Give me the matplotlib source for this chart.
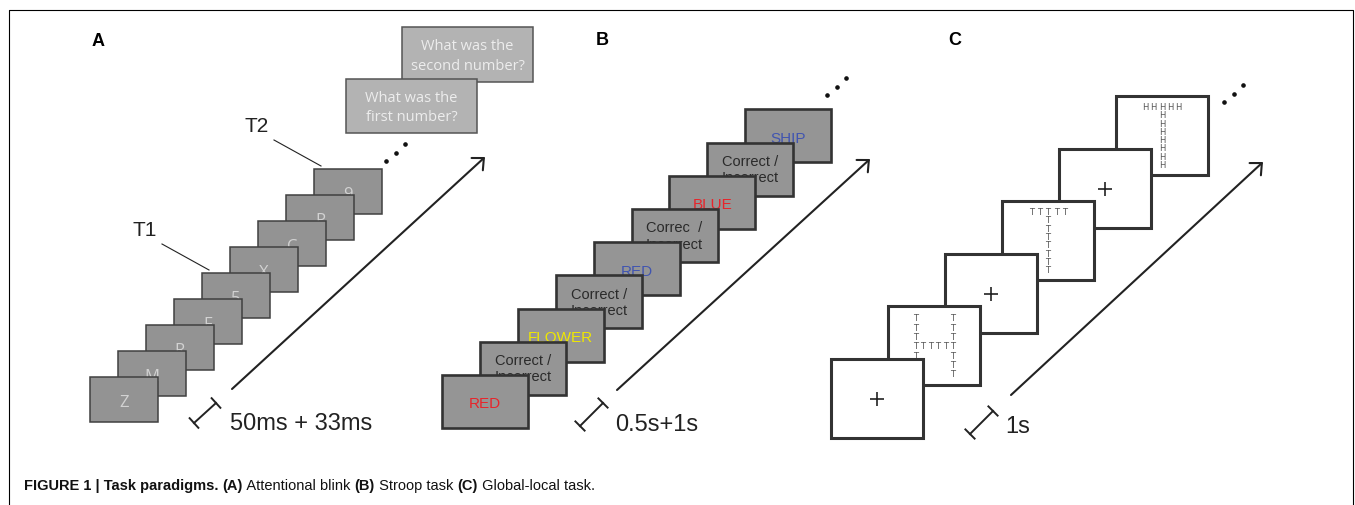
import numpy as np
import matplotlib.pyplot as plt
from matplotlib.patches import Rectangle
from matplotlib import font_manager

W, H = 1355, 506

# ---- content of the three paradigms ----
panel_labels = ['A', 'B', 'C']
timings = ['50ms + 33ms', '0.5s+1s', '1s']

# A: attentional blink stream (first item is the front card)
rsvp_items = ['Z', 'M', 'R', 'F', '5', 'X', 'C', 'P', '9']
rsvp_targets = {'T1': 4, 'T2': 8}
questions = ['What was the\nfirst number?', 'What was the\nsecond number?']

# B: Stroop stream
stroop_words = ['RED', 'Correct /\nIncorrect', 'FLOWER', 'Correct /\nIncorrect', 'RED',
                'Correc  /\nIncorrect', 'BLUE', 'Correct /\nIncorrect', 'SHIP']
stroop_inks = ['red', 'black', 'yellow', 'black', 'blue', 'black', 'red', 'black', 'blue']

# C: global-local stream, (global shape, local letter) or fixation
navon_items = ['+', ('H', 'T'), '+', ('T', 'T'), '+', ('T', 'H')]
navon_shapes = {
    'H': ['X....X', 'X....X', 'X....X', 'XXXXXX', 'X....X', 'X....X', 'X....X'],
    'T': ['XXXXX', '..X..', '..X..', '..X..', '..X..', '..X..', '..X..', '..X..'],
}

caption = [('FIGURE 1 | Task paradigms. ', 'bold'), ('(A)', 'bold'), (' Attentional blink ', 'normal'),
           ('(B)', 'bold'), (' Stroop task ', 'normal'), ('(C)', 'bold'), (' Global-local task.', 'normal')]

ink_colors = {'red': '#e8242a', 'black': '#2a2a2a', 'yellow': '#f0e800', 'blue': '#4155b0'}
SANS = 'Liberation Sans'
HUMAN = 'Open Sans'
try:
    font_manager.findfont('Liberation Sans Narrow', fallback_to_default=False)
    NARROW = 'Liberation Sans Narrow'
except Exception:
    NARROW = 'Liberation Sans'

fig = plt.figure(figsize=(W / 100, H / 100), dpi=100)
ax = fig.add_axes([0, 0, 1, 1])
ax.set_xlim(0, W)
ax.set_ylim(H, 0)
ax.axis('off')

# outer frame (open at the bottom)
ax.plot([8.5, 8.5, 1352.5, 1352.5], [H, 11, 11, H], color='black', lw=0.8)


def card(x, y, w, h, z, fc, ec, lw):
    ax.add_patch(Rectangle((x, y), w, h, facecolor=fc, edgecolor=ec, lw=lw, zorder=z))


def timeline(start, tip, bar0, bar1, label, label_xy):
    ax.annotate('', xy=tip, xytext=start,
                arrowprops=dict(arrowstyle='->,head_length=0.65,head_width=0.6', lw=1.5,
                                color='#222222', shrinkA=0, shrinkB=0, mutation_scale=10))
    p0, p1 = np.array(bar0, float), np.array(bar1, float)
    u = (p1 - p0) / np.hypot(*(p1 - p0))
    n = np.array([-u[1], u[0]]) * 6.5
    ax.plot([p0[0], p1[0]], [p0[1], p1[1]], color='#222222', lw=1.4)
    for p in (p0, p1):
        ax.plot([p[0] - n[0], p[0] + n[0]], [p[1] - n[1], p[1] + n[1]], color='#222222', lw=1.4)
    ax.text(label_xy[0], label_xy[1] + 8.5, label, fontsize=17, family=SANS, color='#222222',
            ha='left', va='baseline')


def dots(x0, y0, dx=9.5, dy=-8.3):
    ax.plot([x0 + i * dx for i in range(3)], [y0 + i * dy for i in range(3)],
            'o', ms=2.3, color='#111111')


# ---------------- panel A ----------------
ax.text(98, 41, panel_labels[0], fontsize=13, weight='bold', family=SANS, ha='center', va='center')
x0, y0, dx, dy, cw, ch = 90, 378, 28, -26, 68, 45
for i, item in enumerate(rsvp_items):
    x, y = x0 + i * dx, y0 + i * dy
    card(x, y, cw, ch, 100 - i, '#939393', '#404040', 1.1)
    ax.text(x + cw / 2, y + ch / 2 + 6.5, item, fontsize=12, family=HUMAN, color='#d2d2d2',
            ha='center', va='baseline', zorder=100.5 - i)
for name, idx in rsvp_targets.items():
    ex, ey = x0 + idx * dx + 7, y0 + idx * dy - 3
    ax.plot([ex - 47, ex], [ey - 26, ey], color='#222222', lw=0.8)
    ax.text(ex - 64, ey - 41, name, fontsize=15, family=SANS, color='#222222',
            ha='center', va='center')
q_boxes = [(346, 80, 131, 54), (402, 28, 131, 55)]
for j, (q, (qx, qy, qw, qh)) in enumerate(zip(questions, q_boxes)):
    card(qx, qy, qw, qh, 60 - j, '#b3b3b3', '#555555', 1.1)
    ax.text(qx + qw / 2, qy + qh / 2 + 1, q, fontsize=10.5, family=HUMAN, color='#ededed',
            ha='center', va='center', linespacing=1.4, zorder=60.5 - j)
dots(386, 162)
timeline((232, 390), (485, 158), (194, 424), (216, 404), timings[0], (230, 422))

# ---------------- panel B ----------------
ax.text(602, 40, panel_labels[1], fontsize=13, weight='bold', family=SANS, ha='center', va='center')
x0, y0, dx, dy, cw, ch = 442, 376, 37.9, -33.2, 86, 53
for i, (word, ink) in enumerate(zip(stroop_words, stroop_inks)):
    x, y = x0 + i * dx, y0 + i * dy
    card(x, y, cw, ch, 100 - i, '#959595', '#333333', 1.9)
    if '\n' in word:
        ax.text(x + cw / 2, y + ch / 2, word, fontsize=10.5, family=SANS,
                color=ink_colors[ink], ha='center', va='center', linespacing=1.2,
                zorder=100.5 - i)
    else:
        ax.text(x + cw / 2, y + ch / 2 + 6, word, fontsize=11, family=SANS,
                color=ink_colors[ink], ha='center', va='baseline', zorder=100.5 - i)
dots(827, 96)
timeline((617, 391), (870, 160), (580, 427), (603, 404), timings[1], (615, 423))

# ---------------- panel C ----------------
ax.text(955, 40, panel_labels[2], fontsize=13, weight='bold', family=SANS, ha='center', va='center')
x0, y0, dx, dy, cw, ch = 831, 360, 57, -52.6, 92, 79
for i, item in enumerate(navon_items):
    x, y = x0 + i * dx, y0 + i * dy
    card(x, y, cw, ch, 100 - i, 'white', '#333333', 2.2)
    cx, cy = x + cw / 2, y + ch / 2
    if item == '+':
        ax.plot(cx, cy + 0.5, marker='+', ms=10, mew=1.2, color='#222222', zorder=100.5 - i)
        continue
    shape, letter = item
    rows = navon_shapes[shape]
    gw, gh = (37, 56) if shape == 'H' else (33, 58)
    nr, nc = len(rows), len(rows[0])
    for r, row in enumerate(rows):
        for c, ch_ in enumerate(row):
            if ch_ == 'X':
                ax.text(cx - gw / 2 + c * gw / (nc - 1), cy - gh / 2 + r * gh / (nr - 1) + 2.5,
                        letter, fontsize=6, family='DejaVu Sans', color='#555555',
                        ha='center', va='baseline', zorder=100.5 - i)
dots(1224, 103)
timeline((1011, 396), (1263, 163), (970, 435), (993, 412), timings[2], (1005, 425))

# ---------------- caption ----------------
fig.canvas.draw()
renderer = fig.canvas.get_renderer()
cx = 24
for txt, wt in caption:
    t = ax.text(cx, 490, txt, fontsize=10.5, weight=wt, family=NARROW, color='#111111',
                ha='left', va='baseline')
    bb = t.get_window_extent(renderer)
    cx += bb.width  # axes spans the whole figure, 1 data unit = 1 pixel

fig.savefig('out.png', dpi=100)
